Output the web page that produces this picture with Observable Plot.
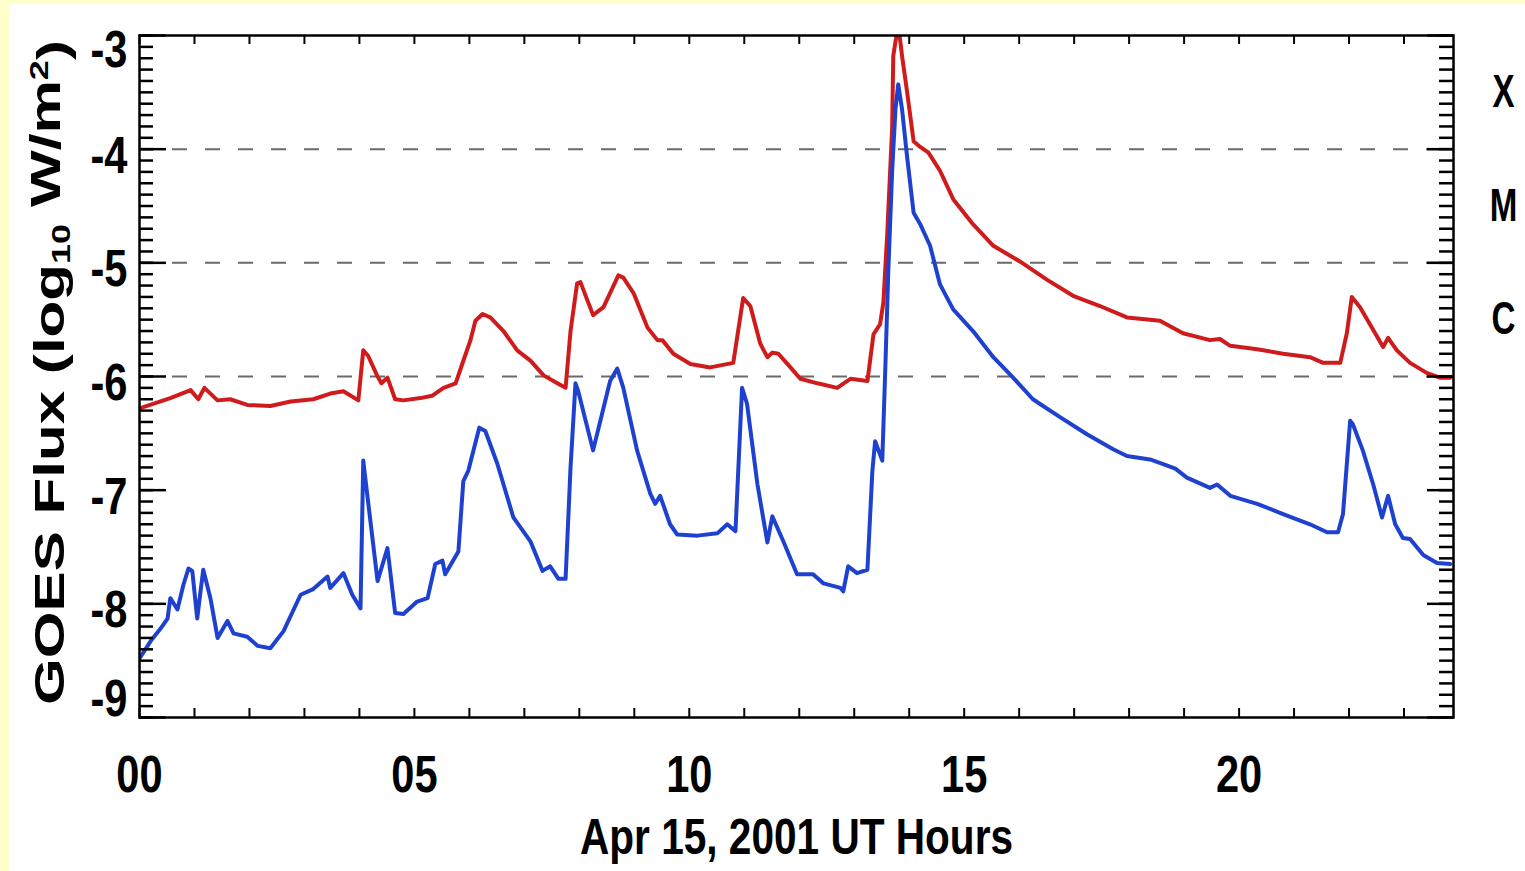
<!DOCTYPE html>
<html>
<head>
<meta charset="utf-8">
<script src="https://cdn.jsdelivr.net/npm/d3@7"></script>
<script src="https://cdn.jsdelivr.net/npm/@observablehq/plot@0.6"></script>
<style>
  body { margin: 0; background: #ffffcc; }
  #chart { position: absolute; left: 9px; top: 4px; width: 1516px; height: 867px; background: #ffffff; }
</style>
</head>
<body>
<div id="chart"></div>
<script>
// GOES X-ray flux, Apr 15, 2001 (log10 W/m^2)
const longHours = [0.00,0.56,0.93,1.07,1.18,1.42,1.65,1.96,2.38,2.75,3.16,3.47,3.71,3.98,4.07,4.16,4.32,4.40,4.51,4.65,4.80,5.11,5.32,5.53,5.75,5.87,6.02,6.11,6.24,6.38,6.62,6.87,7.11,7.35,7.60,7.75,7.84,7.96,8.02,8.25,8.44,8.71,8.80,8.99,9.24,9.42,9.51,9.71,10.02,10.38,10.80,10.98,11.11,11.29,11.42,11.51,11.62,11.84,12.02,12.33,12.69,12.93,13.24,13.35,13.47,13.53,13.60,13.69,13.71,13.80,13.87,13.96,14.08,14.20,14.35,14.56,14.80,15.16,15.53,16.02,16.51,16.98,17.47,17.96,18.38,18.56,18.98,19.47,19.65,19.84,20.33,20.80,21.29,21.53,21.84,21.96,22.05,22.20,22.38,22.62,22.71,22.87,23.11,23.42,23.65,23.84];
const longFlux  = [-6.28,-6.19,-6.12,-6.20,-6.10,-6.21,-6.20,-6.25,-6.26,-6.22,-6.20,-6.15,-6.13,-6.21,-5.77,-5.82,-5.99,-6.06,-6.01,-6.20,-6.21,-6.19,-6.17,-6.10,-6.06,-5.89,-5.68,-5.51,-5.45,-5.48,-5.60,-5.77,-5.86,-5.99,-6.06,-6.10,-5.60,-5.18,-5.17,-5.46,-5.39,-5.11,-5.13,-5.27,-5.57,-5.68,-5.68,-5.80,-5.89,-5.92,-5.88,-5.31,-5.38,-5.71,-5.83,-5.79,-5.80,-5.92,-6.02,-6.06,-6.10,-6.02,-6.04,-5.63,-5.54,-5.35,-4.75,-3.81,-3.18,-2.90,-3.18,-3.49,-3.93,-3.98,-4.03,-4.19,-4.44,-4.66,-4.85,-4.99,-5.15,-5.29,-5.38,-5.48,-5.50,-5.51,-5.62,-5.68,-5.67,-5.73,-5.76,-5.80,-5.83,-5.88,-5.88,-5.62,-5.30,-5.39,-5.54,-5.74,-5.66,-5.77,-5.88,-5.97,-6.01,-6.01];

const shortHours = [0.00,0.20,0.38,0.51,0.56,0.69,0.80,0.89,0.96,1.05,1.11,1.16,1.29,1.42,1.60,1.71,1.96,2.15,2.38,2.62,2.93,3.16,3.42,3.47,3.71,3.87,4.02,4.07,4.15,4.33,4.51,4.65,4.80,5.05,5.24,5.38,5.51,5.56,5.80,5.89,5.98,6.18,6.29,6.51,6.80,7.11,7.33,7.47,7.62,7.75,7.84,7.93,7.98,8.25,8.56,8.69,8.80,9.05,9.29,9.38,9.47,9.65,9.78,10.15,10.51,10.69,10.84,10.96,11.05,11.24,11.42,11.51,11.71,11.96,12.25,12.44,12.75,12.80,12.89,13.05,13.24,13.33,13.38,13.51,13.56,13.62,13.69,13.75,13.80,13.87,13.96,14.08,14.20,14.38,14.56,14.80,15.16,15.53,15.89,16.25,16.75,17.24,17.71,17.96,18.38,18.62,18.84,19.05,19.47,19.60,19.84,20.33,20.80,21.29,21.60,21.80,21.89,21.96,22.02,22.07,22.25,22.44,22.60,22.71,22.84,22.98,23.11,23.35,23.60,23.84];
const shortFlux  = [-8.48,-8.33,-8.22,-8.13,-7.95,-8.05,-7.83,-7.69,-7.71,-8.13,-7.89,-7.70,-7.95,-8.30,-8.15,-8.26,-8.29,-8.37,-8.39,-8.24,-7.92,-7.87,-7.76,-7.86,-7.73,-7.92,-8.04,-6.74,-7.07,-7.80,-7.51,-8.08,-8.09,-7.98,-7.95,-7.65,-7.62,-7.74,-7.54,-6.92,-6.83,-6.45,-6.48,-6.77,-7.24,-7.45,-7.71,-7.67,-7.78,-7.78,-6.80,-6.06,-6.13,-6.65,-6.04,-5.93,-6.10,-6.65,-7.03,-7.12,-7.05,-7.30,-7.39,-7.40,-7.38,-7.30,-7.36,-6.10,-6.24,-6.95,-7.46,-7.23,-7.45,-7.74,-7.74,-7.82,-7.86,-7.89,-7.67,-7.73,-7.70,-6.83,-6.57,-6.74,-6.01,-5.07,-4.19,-3.65,-3.43,-3.65,-4.06,-4.56,-4.66,-4.85,-5.19,-5.41,-5.60,-5.83,-6.01,-6.20,-6.36,-6.51,-6.64,-6.70,-6.73,-6.77,-6.81,-6.89,-6.98,-6.95,-7.05,-7.12,-7.21,-7.30,-7.37,-7.37,-7.21,-6.77,-6.39,-6.42,-6.65,-6.95,-7.24,-7.05,-7.30,-7.42,-7.43,-7.57,-7.64,-7.65];

const xTickValues = [0, 5, 10, 15, 20];
const xTickLabels = ["00", "05", "10", "15", "20"];
const yTickValues = [-3, -4, -5, -6, -7, -8, -9];
const classLevels = [-4, -5, -6];
const classNames = ["X", "M", "C"];
const classCenters = [-3.5, -4.5, -5.5];
const xTitle = "Apr 15, 2001 UT Hours";
const yTitle = "GOES Flux (log10 W/m2)";

const longData = longHours.map((h, i) => ({h, v: longFlux[i]}));
const shortData = shortHours.map((h, i) => ({h, v: shortFlux[i]}));
const hourTicks = d3.range(0, 24, 1);
const yMinor = d3.range(-90, -29, 1).map(d => d / 10);

const W = 1516, H = 867, mL = 130, mR = 72, mT = 31, mB = 154;
const fW = W - mL - mR, fH = H - mT - mB;
const font = "'Liberation Sans', Arial, Helvetica, sans-serif";
const lab = {fontWeight: "bold", fontFamily: font, fill: "black"};

const svg = Plot.plot({
  width: W, height: H,
  marginLeft: mL, marginRight: mR, marginTop: mT, marginBottom: mB,
  style: {background: "transparent"},
  x: {domain: [0, 23.9], axis: null},
  y: {domain: [-9, -3], axis: null},
  marks: [
    Plot.ruleY(classLevels, {y: d => d, stroke: "#6a6a6a", strokeWidth: 2, strokeDasharray: "15,18"}),
    Plot.line(longData, {x: "h", y: "v", stroke: "#cf1b1b", strokeWidth: 4, clip: true}),
    Plot.line(shortData, {x: "h", y: "v", stroke: "#1e42cf", strokeWidth: 4, clip: true}),
    Plot.ruleX(hourTicks, {x: d => d, insetTop: fH - 9, stroke: "black", strokeWidth: 2}),
    Plot.ruleX(hourTicks, {x: d => d, insetBottom: fH - 9, stroke: "black", strokeWidth: 2}),
    Plot.ruleY(yMinor, {y: d => d, insetRight: fW - 14, stroke: "black", strokeWidth: 2.5}),
    Plot.ruleY(yMinor, {y: d => d, insetLeft: fW - 14, stroke: "black", strokeWidth: 2.5}),
    Plot.ruleY(yTickValues, {y: d => d, insetRight: fW - 27, stroke: "black", strokeWidth: 2.5}),
    Plot.ruleY(yTickValues, {y: d => d, insetLeft: fW - 26, stroke: "black", strokeWidth: 2.5}),
    Plot.frame({stroke: "black", strokeWidth: 2.5}),
    Plot.text(yTickValues.filter(d => d === -3), {y: d => d, text: d => String(d), frameAnchor: "left", dx: -12, dy: 15, textAnchor: "end", lineAnchor: "middle", fontSize: 52, ...lab}),
    Plot.text(yTickValues.filter(d => d < -3 && d > -9), {y: d => d, text: d => String(d), frameAnchor: "left", dx: -12, dy: 7, textAnchor: "end", lineAnchor: "middle", fontSize: 52, ...lab}),
    Plot.text(yTickValues.filter(d => d === -9), {y: d => d, text: d => String(d), frameAnchor: "left", dx: -12, dy: -18, textAnchor: "end", lineAnchor: "middle", fontSize: 52, ...lab}),
    Plot.text(xTickValues, {x: d => d, text: (d, i) => xTickLabels[i], frameAnchor: "bottom", dy: 58, textAnchor: "middle", lineAnchor: "middle", fontSize: 52, ...lab}),
    Plot.text([xTitle], {text: d => d, frameAnchor: "bottom", dy: 120, textAnchor: "middle", lineAnchor: "middle", fontSize: 50, ...lab}),
    Plot.text(classCenters, {y: d => d, text: (d, i) => classNames[i], frameAnchor: "right", dx: 50, textAnchor: "middle", lineAnchor: "middle", fontSize: 46, ...lab}),
    Plot.text([yTitle], {text: d => d, frameAnchor: "left", dx: -89, dy: -4, rotate: -90, textAnchor: "middle", lineAnchor: "middle", fontSize: 42, ...lab})
  ]
});

document.getElementById("chart").appendChild(svg);

// Horizontal compression of a text element via textLength (keeps its anchor)
function squeezeTo(el, target) {
  el.setAttribute("textLength", target);
  el.setAttribute("lengthAdjust", "spacingAndGlyphs");
}

d3.select(svg).selectAll("text").each(function() {
  const s = this.textContent;
  if (s === yTitle) {
    const t = d3.select(this);
    t.text(null);
    t.append("tspan").text("GOES Flux (log");
    t.append("tspan").attr("dy", "0.25em").attr("font-size", "0.6em").text("10");
    t.append("tspan").attr("dy", "-0.25em").text(" W/m");
    t.append("tspan").attr("dy", "-0.45em").attr("font-size", "0.6em").text("2");
    t.append("tspan").attr("dy", "0.45em").text(")");
    squeezeTo(this, 665);
  } else if (s === xTitle) {
    squeezeTo(this, 433);
  } else {
    const len = this.getComputedTextLength();
    squeezeTo(this, len * (classNames.includes(s) ? 0.72 : 0.8));
  }
});
</script>
</body>
</html>
